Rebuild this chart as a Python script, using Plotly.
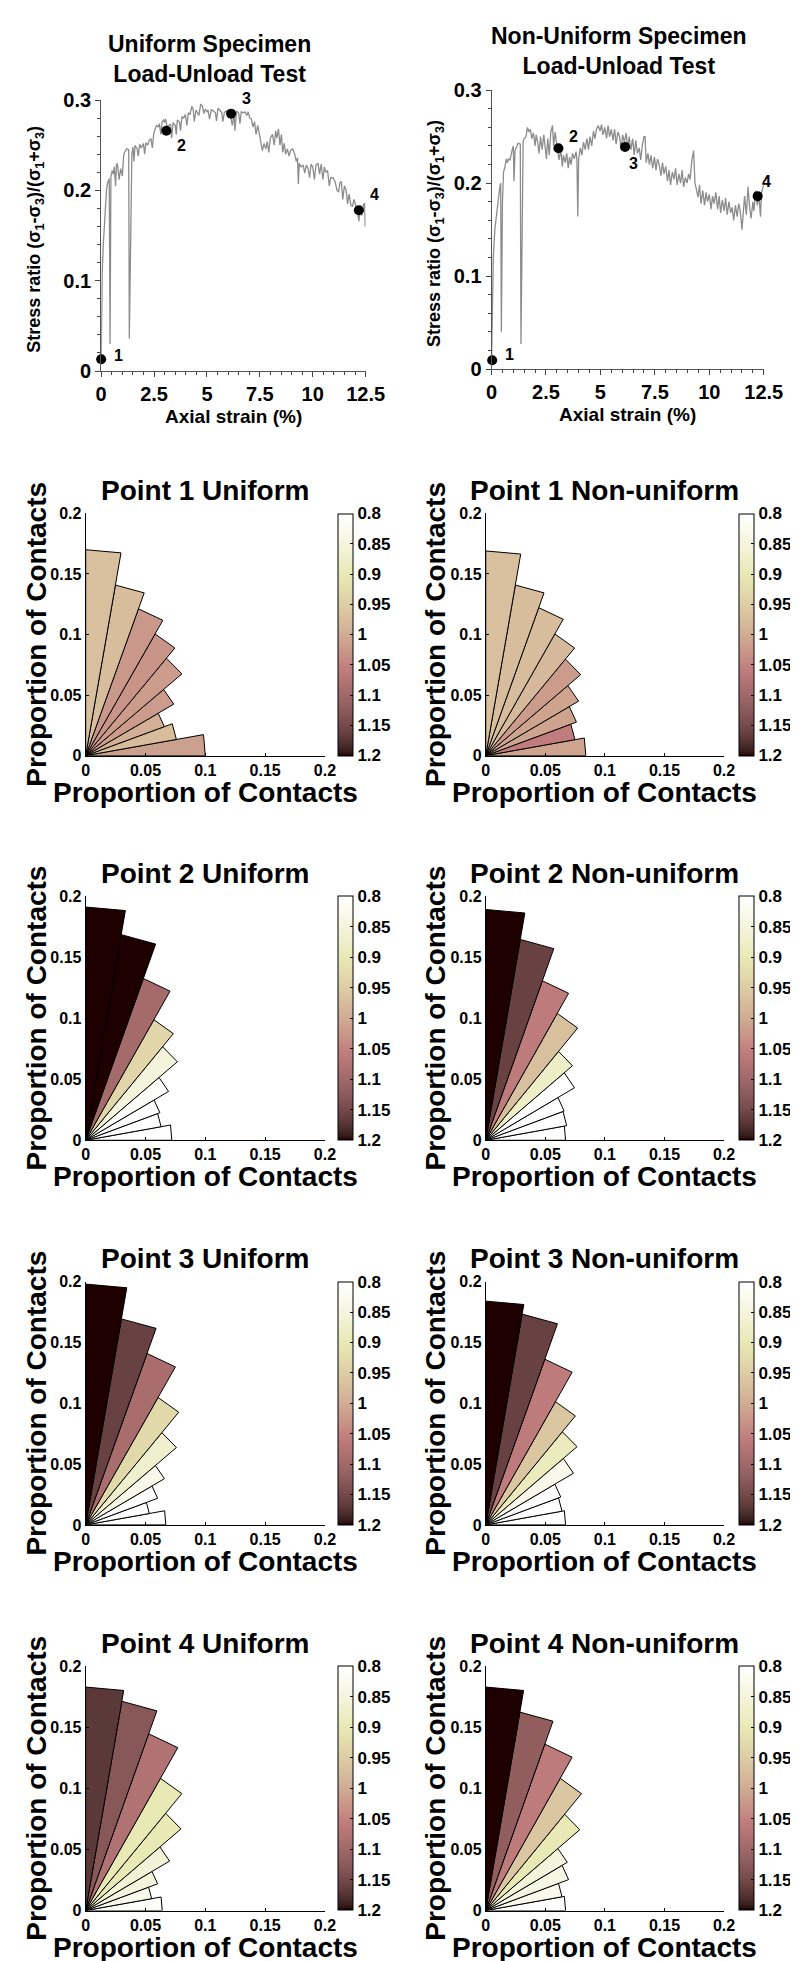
import numpy as np
import plotly.graph_objects as go

W, H = 798, 1961
FONT = "Liberation Sans"

# ---------------- stress-strain data ----------------
uni_strain = [0.00, 0.02, 0.05, 0.10, 0.15, 0.20, 0.25, 0.30, 0.38, 0.42, 0.46, 0.52, 0.58, 0.62, 0.68, 0.72,
              0.76, 0.85, 0.92, 1.00, 1.02, 1.06, 1.10, 1.20, 1.30, 1.33, 1.45, 1.50, 1.55, 1.60, 1.70, 1.75,
              1.82, 1.90, 2.00, 2.05, 2.12, 2.20, 2.28, 2.35, 2.42, 2.48, 2.55, 2.62, 2.70, 2.75, 2.82, 2.88,
              2.95, 3.00, 3.05, 3.12, 3.20, 3.28, 3.33, 3.40, 3.50, 3.55, 3.60, 3.70, 3.75, 3.82, 3.90, 3.98,
              4.05, 4.12, 4.20, 4.28, 4.35, 4.40, 4.48, 4.55, 4.62, 4.70, 4.78, 4.85, 4.92, 5.00, 5.05, 5.12,
              5.20, 5.30, 5.40, 5.45, 5.52, 5.60, 5.70, 5.75, 5.82, 5.90, 6.00, 6.10, 6.20, 6.28, 6.32, 6.40,
              6.50, 6.56, 6.62, 6.72, 6.80, 6.88, 6.95, 7.02, 7.10, 7.18, 7.25, 7.32, 7.40, 7.48, 7.55, 7.62,
              7.70, 7.78, 7.85, 7.92, 8.00, 8.10, 8.18, 8.25, 8.30, 8.38, 8.45, 8.52, 8.58, 8.65, 8.72, 8.80,
              8.88, 8.95, 9.05, 9.15, 9.22, 9.28, 9.32, 9.36, 9.45, 9.55, 9.62, 9.70, 9.78, 9.85, 9.92, 10.00,
              10.08, 10.15, 10.25, 10.32, 10.40, 10.48, 10.55, 10.62, 10.70, 10.78, 10.85, 10.95, 11.05, 11.15,
              11.22, 11.28, 11.35, 11.42, 11.50, 11.58, 11.65, 11.72, 11.80, 11.88, 11.95, 12.05, 12.12, 12.18,
              12.25, 12.32, 12.40, 12.45, 12.48]
uni_stress = [0.010, 0.060, 0.110, 0.140, 0.165, 0.190, 0.200, 0.208, 0.213, 0.030, 0.215, 0.222, 0.218, 0.226, 0.205, 0.228,
              0.230, 0.212, 0.224, 0.216, 0.225, 0.238, 0.242, 0.246, 0.245, 0.036, 0.240, 0.248, 0.232, 0.250, 0.246, 0.238,
              0.251, 0.247, 0.252, 0.240, 0.253, 0.250, 0.256, 0.257, 0.247, 0.262, 0.268, 0.272, 0.270, 0.274, 0.262, 0.276,
              0.278, 0.275, 0.279, 0.270, 0.272, 0.273, 0.258, 0.275, 0.272, 0.262, 0.278, 0.276, 0.266, 0.282, 0.280, 0.284,
              0.272, 0.286, 0.284, 0.293, 0.290, 0.276, 0.289, 0.286, 0.283, 0.295, 0.294, 0.285, 0.290, 0.287, 0.289, 0.279,
              0.289, 0.288, 0.286, 0.277, 0.291, 0.289, 0.286, 0.276, 0.286, 0.288, 0.285, 0.283, 0.272, 0.286, 0.266, 0.288,
              0.285, 0.274, 0.287, 0.286, 0.287, 0.283, 0.287, 0.280, 0.279, 0.270, 0.276, 0.262, 0.272, 0.262, 0.250, 0.244,
              0.252, 0.246, 0.254, 0.242, 0.258, 0.262, 0.250, 0.266, 0.258, 0.268, 0.250, 0.262, 0.242, 0.252, 0.240, 0.246,
              0.238, 0.244, 0.246, 0.240, 0.232, 0.236, 0.207, 0.230, 0.226, 0.228, 0.219, 0.228, 0.224, 0.214, 0.229, 0.226,
              0.212, 0.228, 0.230, 0.218, 0.229, 0.212, 0.226, 0.220, 0.222, 0.205, 0.214, 0.214, 0.210, 0.200,
              0.198, 0.208, 0.210, 0.190, 0.205, 0.200, 0.185, 0.196, 0.184, 0.182, 0.190, 0.180, 0.176, 0.166,
              0.180, 0.172, 0.184, 0.186, 0.160]

non_strain = [0.00, 0.03, 0.08, 0.15, 0.22, 0.30, 0.38, 0.42, 0.45, 0.50, 0.55, 0.62, 0.68, 0.72, 0.78, 0.85,
              0.90, 0.95, 1.00, 1.03, 1.08, 1.15, 1.22, 1.32, 1.35, 1.45, 1.50, 1.58, 1.65, 1.72, 1.78, 1.85,
              1.92, 2.00, 2.05, 2.12, 2.18, 2.25, 2.32, 2.40, 2.45, 2.52, 2.58, 2.65, 2.72, 2.80, 2.85, 2.92,
              3.00, 3.05, 3.10, 3.18, 3.25, 3.30, 3.38, 3.45, 3.52, 3.58, 3.65, 3.72, 3.80, 3.88, 3.92, 3.96,
              4.00, 4.08, 4.15, 4.22, 4.30, 4.38, 4.45, 4.52, 4.60, 4.68, 4.75, 4.82, 4.90, 4.98, 5.05, 5.12,
              5.20, 5.28, 5.35, 5.42, 5.50, 5.58, 5.65, 5.72, 5.80, 5.88, 5.95, 6.02, 6.10, 6.18, 6.25, 6.32,
              6.40, 6.48, 6.55, 6.62, 6.70, 6.78, 6.85, 6.92, 7.00, 7.05, 7.10, 7.18, 7.25, 7.32, 7.40, 7.48,
              7.55, 7.62, 7.70, 7.78, 7.85, 7.92, 8.00, 8.08, 8.15, 8.22, 8.30, 8.38, 8.45, 8.52, 8.60, 8.68,
              8.75, 8.82, 8.90, 8.98, 9.05, 9.12, 9.20, 9.28, 9.34, 9.40, 9.48, 9.55, 9.62, 9.70, 9.78, 9.85,
              9.92, 10.00, 10.08, 10.15, 10.22, 10.30, 10.38, 10.45, 10.52, 10.60, 10.68, 10.75, 10.82, 10.90,
              10.98, 11.05, 11.12, 11.20, 11.28, 11.35, 11.42, 11.50, 11.56, 11.62, 11.70, 11.78, 11.85, 11.92,
              12.00, 12.05, 12.12, 12.20, 12.28, 12.35, 12.40, 12.45, 12.50]
non_stress = [0.008, 0.070, 0.120, 0.150, 0.165, 0.180, 0.196, 0.200, 0.040, 0.180, 0.212, 0.218, 0.226, 0.222, 0.226, 0.225,
              0.232, 0.236, 0.240, 0.202, 0.235, 0.240, 0.243, 0.242, 0.027, 0.245, 0.248, 0.250, 0.260, 0.255, 0.258, 0.248,
              0.254, 0.240, 0.252, 0.244, 0.232, 0.250, 0.236, 0.252, 0.238, 0.226, 0.248, 0.230, 0.255, 0.262, 0.240, 0.255,
              0.240, 0.230, 0.225, 0.236, 0.218, 0.230, 0.222, 0.232, 0.216, 0.228, 0.220, 0.232, 0.226, 0.234, 0.225, 0.164,
              0.226, 0.238, 0.230, 0.244, 0.236, 0.248, 0.236, 0.250, 0.240, 0.256, 0.248, 0.258, 0.262, 0.256, 0.263, 0.252,
              0.260, 0.248, 0.262, 0.250, 0.258, 0.246, 0.258, 0.242, 0.255, 0.250, 0.236, 0.252, 0.244, 0.254, 0.238, 0.250,
              0.236, 0.248, 0.230, 0.246, 0.232, 0.238, 0.225, 0.240, 0.250, 0.250, 0.222, 0.232, 0.220, 0.230, 0.216, 0.228,
              0.214, 0.226, 0.220, 0.208, 0.222, 0.210, 0.218, 0.202, 0.214, 0.198, 0.212, 0.204, 0.216, 0.198, 0.210, 0.200,
              0.214, 0.196, 0.206, 0.200, 0.210, 0.204, 0.225, 0.235, 0.200, 0.194, 0.185, 0.198, 0.178, 0.192, 0.176, 0.190,
              0.180, 0.188, 0.172, 0.186, 0.178, 0.190, 0.172, 0.186, 0.168, 0.182, 0.170, 0.184, 0.166, 0.180,
              0.168, 0.174, 0.160, 0.176, 0.164, 0.178, 0.170, 0.150, 0.168, 0.186, 0.166, 0.196, 0.174, 0.162,
              0.180, 0.170, 0.192, 0.176, 0.186, 0.164, 0.190, 0.195, 0.198]

uni_pts_strain = [0.0, 3.08, 6.14, 12.18]
uni_pts_stress = [0.013, 0.266, 0.285, 0.178]
non_pts_strain = [0.03, 3.07, 6.13, 12.22]
non_pts_stress = [0.0095, 0.2375, 0.239, 0.186]
pt_labels = ["1", "2", "3", "4"]

strain_ticks = [0, 2.5, 5, 7.5, 10, 12.5]
strain_ticktext = ["0", "2.5", "5", "7.5", "10", "12.5"]
stress_ticks = [0, 0.1, 0.2, 0.3]
stress_ticktext = ["0", "0.1", "0.2", "0.3"]

# ---------------- rose diagram data ----------------
bin_edges_deg = [0, 10, 20, 30, 40, 50, 60, 70, 80, 90]

p1_uni_prop = [0.100, 0.077, 0.070, 0.085, 0.105, 0.116, 0.129, 0.143, 0.170]
p1_uni_val = [1.015, 0.975, 0.995, 1.02, 1.02, 1.03, 1.025, 0.975, 0.97]
p1_non_prop = [0.084, 0.076, 0.081, 0.090, 0.104, 0.116, 0.130, 0.143, 0.169]
p1_non_val = [1.01, 1.055, 1.01, 1.01, 1.02, 0.98, 0.975, 0.975, 0.97]
p2_uni_prop = [0.072, 0.064, 0.066, 0.080, 0.100, 0.114, 0.141, 0.171, 0.191]
p2_uni_val = [0.79, 0.79, 0.80, 0.81, 0.85, 0.935, 1.095, 1.2, 1.2]
p2_non_prop = [0.067, 0.069, 0.070, 0.086, 0.095, 0.120, 0.139, 0.167, 0.189]
p2_non_val = [0.79, 0.79, 0.80, 0.80, 0.88, 0.97, 1.06, 1.16, 1.2]
p3_uni_prop = [0.067, 0.054, 0.064, 0.076, 0.099, 0.121, 0.150, 0.172, 0.198]
p3_uni_val = [0.79, 0.79, 0.80, 0.83, 0.87, 0.93, 1.09, 1.16, 1.2]
p3_non_prop = [0.067, 0.065, 0.067, 0.085, 0.100, 0.117, 0.145, 0.176, 0.184]
p3_non_val = [0.79, 0.79, 0.80, 0.83, 0.89, 0.96, 1.06, 1.16, 1.2]
p4_uni_prop = [0.064, 0.056, 0.064, 0.081, 0.104, 0.125, 0.154, 0.174, 0.183]
p4_uni_val = [0.81, 0.83, 0.85, 0.86, 0.90, 0.90, 1.08, 1.13, 1.17]
p4_non_prop = [0.067, 0.065, 0.074, 0.079, 0.103, 0.125, 0.145, 0.165, 0.183]
p4_non_val = [0.80, 0.83, 0.84, 0.85, 0.90, 0.96, 1.06, 1.12, 1.2]

prop_ticks = [0, 0.05, 0.1, 0.15, 0.2]
prop_ticktext = ["0", "0.05", "0.1", "0.15", "0.2"]
cbar_vals = [0.8, 0.85, 0.9, 0.95, 1.0, 1.05, 1.1, 1.15, 1.2]
cbar_text = ["0.8", "0.85", "0.9", "0.95", "1", "1.05", "1.1", "1.15", "1.2"]
CMIN, CMAX = 0.8, 1.2

# ---------------- MATLAB "pink" colormap ----------------
m = 64
gr = np.arange(m) / (m - 1)
n = int(3 / 8 * m)
hot = np.stack([
    np.concatenate([np.arange(1, n + 1) / n, np.ones(m - n)]),
    np.concatenate([np.zeros(n), np.arange(1, n + 1) / n, np.ones(m - 2 * n)]),
    np.concatenate([np.zeros(2 * n), np.arange(1, m - 2 * n + 1) / (m - 2 * n)]),
], axis=1)
pink = np.sqrt((2 * gr[:, None] + hot) / 3)
pink_scale = [[i / (m - 1), "rgb(%d,%d,%d)" % tuple(np.round(pink[i] * 255))] for i in range(m)]


def val_color(v):
    t = (CMAX - v) / (CMAX - CMIN)
    t = min(max(t, 0.0), 1.0)
    rgb = [np.interp(t, gr, pink[:, k]) for k in range(3)]
    return "rgb(%d,%d,%d)" % tuple(int(round(c * 255)) for c in rgb)


def px(x):
    return x / W


def py(y):
    return 1 - y / H


fig = go.Figure()
layout = dict(width=W, height=H, margin=dict(l=0, r=0, t=0, b=0),
              paper_bgcolor="white", plot_bgcolor="white", showlegend=False,
              font=dict(family=FONT, color="black"))
annotations = []

# ---------------- stress-strain panels ----------------
stress_panels = [
    dict(strain=uni_strain, stress=uni_stress, ps=uni_pts_strain, pv=uni_pts_stress,
         title="Uniform Specimen<br>Load-Unload Test", x0=90, x1=363, y0=82, y1=356, tx=202, ty=40, lx=22,
         shifts=[(11, 4), (9, -15), (9, 15), (9, 16)]),
    dict(strain=non_strain, stress=non_stress, ps=non_pts_strain, pv=non_pts_stress,
         title="Non-Uniform Specimen<br>Load-Unload Test", x0=493, x1=774, y0=72, y1=354, tx=625, ty=32, lx=435,
         shifts=[(11, 6), (9, 12), (2, -17), (2, 15)]),
]
for i, p in enumerate(stress_panels, start=1):
    xa, ya = "x%d" % i, "y%d" % i
    fig.add_trace(go.Scatter(x=p["strain"], y=p["stress"], mode="lines",
                             line=dict(color="#8c8c8c", width=1.3), xaxis=xa, yaxis=ya, hoverinfo="skip"))
    fig.add_trace(go.Scatter(x=p["ps"], y=p["pv"], mode="markers",
                             marker=dict(color="black", size=10), xaxis=xa, yaxis=ya, cliponaxis=False))
    layout["xaxis%d" % i] = dict(domain=[px(p["x0"]), px(p["x1"])], anchor=ya, range=[0, 12.5],
                                 tickvals=strain_ticks, ticktext=strain_ticktext, ticks="outside", ticklen=5,
                                 minor=dict(dtick=0.5, tick0=0, ticks="outside", ticklen=3, tickcolor="#444"),
                                 showline=True, linecolor="#555", linewidth=1, showgrid=False, zeroline=False,
                                 tickfont=dict(size=20, family=FONT, weight="bold"), tickcolor="#444")
    layout["yaxis%d" % i] = dict(domain=[py(p["y1"]), py(p["y0"])], anchor=xa, range=[0, 0.3],
                                 tickvals=stress_ticks, ticktext=stress_ticktext, ticks="outside", ticklen=5,
                                 minor=dict(dtick=0.02, tick0=0, ticks="outside", ticklen=3, tickcolor="#444"),
                                 showline=True, linecolor="#555", linewidth=1, showgrid=False, zeroline=False,
                                 tickfont=dict(size=20, family=FONT, weight="bold"), tickcolor="#444")
    for lab, sx, sy, (dx, dy) in zip(pt_labels, p["ps"], p["pv"], p["shifts"]):
        annotations.append(dict(text=lab, x=sx, y=sy, xref=xa, yref=ya, showarrow=False,
                                xshift=dx, yshift=dy, xanchor="left",
                                font=dict(size=16, family=FONT, weight="bold")))
    annotations.append(dict(text=p["title"], x=px(p["tx"]), y=py(p["ty"]), xref="paper", yref="paper",
                            showarrow=False, xanchor="center", yanchor="middle",
                            font=dict(size=23, family=FONT, weight="bold")))
    annotations.append(dict(text="Axial strain (%)", x=px((p["x0"] + p["x1"]) / 2), y=py(p["y1"] + 46),
                            xref="paper", yref="paper", showarrow=False, xanchor="center", yanchor="middle",
                            font=dict(size=19, family=FONT, weight="bold")))
    annotations.append(dict(text="Stress ratio (σ<sub>1</sub>-σ<sub>3</sub>)/(σ<sub>1</sub>+σ<sub>3</sub>)",
                            x=px(p["lx"]), y=py((p["y0"] + p["y1"]) / 2 + 4), xref="paper", yref="paper",
                            showarrow=False, textangle=-90, xanchor="center", yanchor="middle",
                            font=dict(size=18, family=FONT, weight="bold")))

# ---------------- rose panels ----------------
rose_panels = [
    ("Point 1 Uniform", p1_uni_prop, p1_uni_val, 0, 0),
    ("Point 1 Non-uniform", p1_non_prop, p1_non_val, 1, 0),
    ("Point 2 Uniform", p2_uni_prop, p2_uni_val, 0, 1),
    ("Point 2 Non-uniform", p2_non_prop, p2_non_val, 1, 1),
    ("Point 3 Uniform", p3_uni_prop, p3_uni_val, 0, 2),
    ("Point 3 Non-uniform", p3_non_prop, p3_non_val, 1, 2),
    ("Point 4 Uniform", p4_uni_prop, p4_uni_val, 0, 3),
    ("Point 4 Non-uniform", p4_non_prop, p4_non_val, 1, 3),
]
col_x = [(74, 321), (487, 733)]
col_cb = [334, 748]
col_lab = [23, 435]
row_y = [(500, 745), (887, 1134), (1277, 1523), (1666, 1913)]

for k, (title, prop, val, col, row) in enumerate(rose_panels, start=3):
    xa, ya = "x%d" % k, "y%d" % k
    x0, x1 = col_x[col]
    y0, y1 = row_y[row]
    for j in range(len(prop)):
        t1 = np.radians(bin_edges_deg[j])
        t2 = np.radians(bin_edges_deg[j + 1])
        r = prop[j]
        fig.add_trace(go.Scatter(x=[0, r * np.cos(t1), r * np.cos(t2), 0],
                                 y=[0, r * np.sin(t1), r * np.sin(t2), 0],
                                 mode="lines", fill="toself", fillcolor=val_color(val[j]),
                                 line=dict(color="black", width=1), xaxis=xa, yaxis=ya, hoverinfo="skip"))
    fig.add_trace(go.Scatter(x=[None, None], y=[None, None], mode="markers", xaxis=xa, yaxis=ya,
                             marker=dict(color=[-CMAX, -CMIN], colorscale=pink_scale, cmin=-CMAX, cmax=-CMIN,
                                         showscale=True,
                                         colorbar=dict(x=px(col_cb[col]), xanchor="left", xpad=0,
                                                       y=py((y0 + y1) / 2), yanchor="middle", ypad=0,
                                                       len=(y1 - y0) / H, lenmode="fraction",
                                                       thickness=15, thicknessmode="pixels",
                                                       outlinewidth=1, outlinecolor="black",
                                                       tickvals=[-v for v in cbar_vals], ticktext=cbar_text,
                                                       ticks="inside", ticklen=3, tickcolor="black",
                                                       tickfont=dict(size=17, family=FONT, weight="bold"))),
                             hoverinfo="skip"))
    axis_common = dict(range=[0, 0.2], tickvals=prop_ticks, ticktext=prop_ticktext, ticks="inside", ticklen=3,
                       tickcolor="black", showline=True, linecolor="black", linewidth=1, showgrid=False,
                       zeroline=False, tickfont=dict(size=16, family=FONT, weight="bold"))
    layout["xaxis%d" % k] = dict(domain=[px(x0), px(x1)], anchor=ya, **axis_common)
    layout["yaxis%d" % k] = dict(domain=[py(y1), py(y0)], anchor=xa, **axis_common)
    annotations.append(dict(text=title, x=px((x0 + x1) / 2), y=py(y0 - 23), xref="paper", yref="paper",
                            showarrow=False, xanchor="center", yanchor="middle",
                            font=dict(size=28, family=FONT, weight="bold")))
    annotations.append(dict(text="Proportion of Contacts", x=px((x0 + x1) / 2), y=py(y1 + 37),
                            xref="paper", yref="paper", showarrow=False, xanchor="center", yanchor="middle",
                            font=dict(size=28, family=FONT, weight="bold")))
    annotations.append(dict(text="Proportion of Contacts", x=px(col_lab[col]), y=py((y0 + y1) / 2),
                            xref="paper", yref="paper", showarrow=False, textangle=-90,
                            xanchor="center", yanchor="middle",
                            font=dict(size=28, family=FONT, weight="bold")))

layout["annotations"] = annotations
fig.update_layout(**layout)
fig.write_html("out.html")
